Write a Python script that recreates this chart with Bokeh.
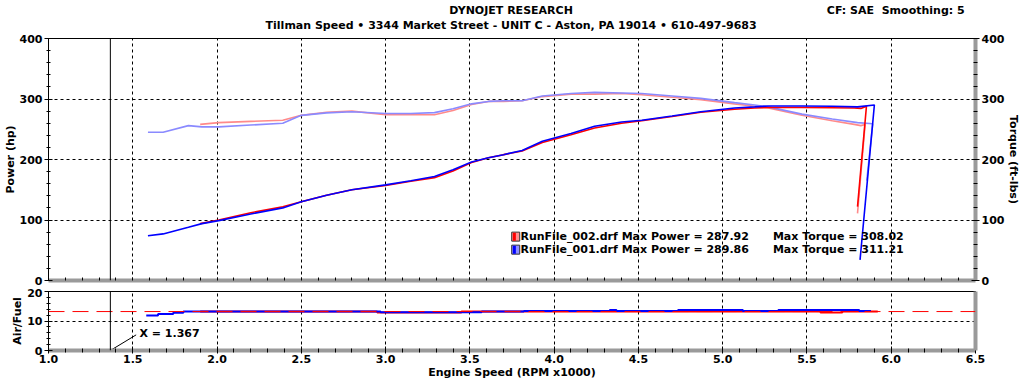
from bokeh.plotting import figure
from bokeh.layouts import column
from bokeh.models import (Range1d, LinearAxis, Span, Label, SingleIntervalTicker,
                          FixedTicker, PrintfTickFormatter)
from bokeh.embed import file_html
from bokeh.resources import INLINE

FONT = "DejaVu Sans"
FS = "11px"

# ---------------- data ----------------
# RunFile_001 (blue)
rpm_001_pw = [1.59, 1.68, 1.83, 1.91, 2.01, 2.2, 2.39, 2.5, 2.65, 2.8, 3.0, 3.15, 3.29, 3.4,
              3.51, 3.61, 3.7, 3.81, 3.93, 4.1, 4.24, 4.4, 4.52, 4.7, 4.87, 5.07, 5.19, 5.27,
              5.47, 5.65, 5.8, 5.9, 5.815]
power_001 = [74, 77, 88, 94, 99, 110, 120, 130, 141, 150, 158, 165, 172, 183,
             196, 203, 208, 215, 230, 243, 255, 262, 265, 272, 279, 285, 287, 288.5,
             288.5, 288, 287, 290, 34]
rpm_001_tq = [1.59, 1.68, 1.83, 1.91, 2.01, 2.2, 2.39, 2.5, 2.65, 2.8, 3.0, 3.15, 3.29, 3.4,
              3.51, 3.61, 3.7, 3.81, 3.93, 4.1, 4.24, 4.4, 4.52, 4.7, 4.87, 5.07, 5.19, 5.27,
              5.47, 5.65, 5.8, 5.89, 5.855]
torque_001 = [245, 245, 256, 254, 254, 257, 260, 273, 277, 279, 276, 276, 277.5, 284,
              292, 296, 297, 297, 305, 309, 311, 310, 309, 305, 301, 294, 290, 287,
              275, 267, 261, 259, 165]

# RunFile_002 (red)
rpm_002_pw = [1.9, 2.01, 2.2, 2.39, 2.5, 2.65, 2.8, 3.0, 3.15, 3.29, 3.4, 3.51, 3.61, 3.7,
              3.81, 3.93, 4.1, 4.24, 4.4, 4.52, 4.7, 4.87, 5.07, 5.19, 5.27, 5.47, 5.65,
              5.78, 5.82, 5.853, 5.80]
power_002 = [94, 100, 112, 122, 130, 141, 150, 157, 164, 170, 181, 195, 203, 208,
             214, 228, 241, 252, 260, 264, 271, 278, 283, 285, 286, 286, 285.5,
             285, 284.5, 288, 122]
rpm_002_tq = [1.9, 2.01, 2.2, 2.39, 2.5, 2.65, 2.8, 3.0, 3.15, 3.29, 3.4, 3.51, 3.61, 3.7,
              3.81, 3.93, 4.1, 4.24, 4.4, 4.52, 4.7, 4.87, 5.07, 5.19, 5.27, 5.47, 5.65,
              5.78, 5.82, 5.845, 5.80]
torque_002 = [258, 261, 263, 265, 273, 278, 280, 274, 274, 274, 281, 291, 296, 296,
              297, 304, 308, 308, 309, 307, 303, 299, 292, 288, 285, 273, 264,
              258, 256, 258, 111]

# Air/Fuel
afr_001_rpm = [1.58, 1.65, 1.74, 1.80, 2.97, 3.57, 3.82, 4.33, 4.37, 4.735, 5.12, 5.33, 5.81, 5.88]
afr_001 = [11.9, 12.4, 12.8, 13.2, 13.0, 13.2, 13.4, 13.7, 13.4, 13.7, 13.4, 13.7, 13.4, 13.4]
afr_002_rpm = [1.9, 2.95, 3.45, 5.58, 5.71, 5.92]
afr_002 = [13.2, 12.85, 13.2, 12.9, 13.2, 13.2]
afr_target = 13.2
cursor_x = 1.367

legend_files = ["RunFile_002.drf", "RunFile_001.drf"]
legend_power = [287.92, 289.86]
legend_torque = [308.02, 311.21]
legend_colors = ["#ff0000", "#0000ff"]
legend_light = ["#ff9090", "#9090ff"]

title_text = "DYNOJET RESEARCH"
subtitle_text = "Tillman Speed \u2022 3344 Market Street - UNIT C - Aston, PA 19014 \u2022 610-497-9683"
corner_text = "CF: SAE\u00a0 Smoothing: 5"

RED, RED_L = "#ff0000", "#ff8a8a"
BLUE, BLUE_L = "#0000ff", "#8a8aff"
SHADOW = "#9a9a9a"
W = 1024
minor_x = [round(1.0 + 0.1 * i, 2) for i in range(56)]


def style_text(ax):
    ax.major_label_text_font = FONT
    ax.major_label_text_font_style = "bold"
    ax.major_label_text_font_size = FS
    ax.axis_label_text_font = FONT
    ax.axis_label_text_font_style = "bold"
    ax.axis_label_text_font_size = FS
    ax.major_label_text_color = "black"
    ax.axis_label_text_color = "black"


def lbl(x, y, text, align="left"):
    return Label(x=x, y=y, text=text, text_font=FONT, text_font_style="bold",
                 text_font_size=FS, text_align=align, text_baseline="middle",
                 text_color="black")


# ---------------- header ----------------
ph = figure(width=W, height=32, x_range=Range1d(0, W), y_range=Range1d(32, 0),
            output_backend="svg", toolbar_location=None,
            x_axis_location=None, y_axis_location=None,
            min_border=0, min_border_left=0, min_border_right=0,
            min_border_top=0, min_border_bottom=0)
ph.outline_line_color = None
ph.xgrid.visible = False
ph.ygrid.visible = False
ph.add_layout(lbl(511, 10, title_text, "center"))
ph.add_layout(lbl(511, 25, subtitle_text, "center"))
ph.add_layout(lbl(1012, 10, corner_text, "right"))

# ---------------- top panel ----------------
p1 = figure(width=W, height=256, x_range=Range1d(1.0, 6.5), y_range=Range1d(0, 400),
            output_backend="svg", toolbar_location=None,
            min_border_left=47, min_border_right=49, min_border_top=6, min_border_bottom=8)
p1.outline_line_color = "black"
p1.background_fill_color = "white"
p1.border_fill_color = "white"

xa = p1.xaxis[0]
xa.ticker = FixedTicker(ticks=[], minor_ticks=minor_x)
xa.axis_line_color = SHADOW
xa.axis_line_width = 4
xa.major_label_standoff = 0
xa.major_tick_out = 0
xa.minor_tick_in = 3
xa.minor_tick_out = 0
xa.minor_tick_line_color = "black"

ya = p1.yaxis[0]
ya.ticker = SingleIntervalTicker(interval=100, num_minor_ticks=5)
ya.axis_label = "Power (hp)"
style_text(ya)
ya.axis_label_standoff = 0
ya.major_label_standoff = 2
ya.major_tick_in = 4
ya.major_tick_out = 4
ya.minor_tick_in = 2
ya.minor_tick_out = 2
ya.axis_line_color = "black"

ra = LinearAxis(ticker=SingleIntervalTicker(interval=100, num_minor_ticks=5),
                axis_label="Torque (ft-lbs)")
style_text(ra)
ra.axis_label_standoff = 0
ra.major_label_standoff = 2
ra.axis_line_color = SHADOW
ra.axis_line_width = 4
ra.major_tick_in = 4
ra.major_tick_out = 4
ra.minor_tick_in = 2
ra.minor_tick_out = 2
p1.add_layout(ra, "right")

p1.xgrid[0].ticker = SingleIntervalTicker(interval=0.5)
for g in (p1.xgrid[0], p1.ygrid[0]):
    g.grid_line_color = "black"
    g.grid_line_dash = "3 3"
    g.grid_line_width = 1

# curves
p1.line(rpm_002_tq, torque_002, line_color=RED_L, line_width=1.6)
p1.line(rpm_001_tq, torque_001, line_color=BLUE_L, line_width=1.6)
p1.line(rpm_002_pw, power_002, line_color=RED, line_width=1.6)
p1.line(rpm_001_pw, power_001, line_color=BLUE, line_width=1.6)

p1.add_layout(Span(location=cursor_x, dimension="height", line_color="black", line_width=1))

# legend
leg_rows = [72.5, 51.0]
for i in range(2):
    y = leg_rows[i]
    p1.rect(x=[3.772], y=[y], width=8, height=9, width_units="screen", height_units="screen",
            fill_color=legend_light[i], line_color="#333333", line_width=1)
    p1.rect(x=[3.764], y=[y], width=3, height=8, width_units="screen", height_units="screen",
            fill_color=legend_colors[i], line_color=None)
    p1.add_layout(lbl(3.80, y, f"{legend_files[i]} Max Power = {legend_power[i]:.2f}"))
    p1.add_layout(lbl(5.298, y, f"Max Torque = {legend_torque[i]:.2f}"))

# ---------------- bottom panel ----------------
p2 = figure(width=W, height=94, x_range=p1.x_range, y_range=Range1d(0, 20),
            output_backend="svg", toolbar_location=None,
            min_border_left=47, min_border_right=49, min_border_top=3, min_border_bottom=32)
p2.outline_line_color = "black"
p2.background_fill_color = "white"
p2.border_fill_color = "white"

bx = p2.xaxis[0]
bx.ticker = SingleIntervalTicker(interval=0.5, num_minor_ticks=5)
bx.formatter = PrintfTickFormatter(format="%.1f")
bx.axis_label = "Engine Speed (RPM x1000)"
style_text(bx)
bx.axis_line_color = SHADOW
bx.axis_line_width = 4
bx.major_tick_in = 4
bx.major_tick_out = 3
bx.minor_tick_in = 2
bx.minor_tick_out = 2
bx.major_label_standoff = 1
bx.axis_label_standoff = 0

by = p2.yaxis[0]
by.ticker = SingleIntervalTicker(interval=10, num_minor_ticks=5)
by.axis_label = "Air/Fuel"
style_text(by)
by.axis_label_standoff = 0
by.major_label_standoff = 2
by.major_tick_in = 4
by.major_tick_out = 4
by.minor_tick_in = 2
by.minor_tick_out = 2
by.axis_line_color = "black"

rb = LinearAxis(ticker=FixedTicker(ticks=[]))
rb.axis_line_color = SHADOW
rb.axis_line_width = 4
rb.major_tick_line_color = None
rb.minor_tick_line_color = None
p2.add_layout(rb, "right")

for g in (p2.xgrid[0], p2.ygrid[0]):
    g.grid_line_color = "black"
    g.grid_line_dash = "3 3"
    g.grid_line_width = 1

p2.add_layout(Span(location=afr_target, dimension="width", line_color=RED,
                   line_width=1, line_dash="16 8"))
p2.step(afr_002_rpm, afr_002, mode="after", line_color=RED, line_width=2)
p2.step(afr_001_rpm, afr_001, mode="after", line_color=BLUE, line_width=2)

p2.add_layout(Span(location=cursor_x, dimension="height", line_color="black", line_width=1))
p2.segment(x0=[cursor_x], y0=[0], x1=[1.52], y1=[5.3], line_color="black", line_width=1)
p2.add_layout(lbl(1.54, 5.6, "X = 1.367"))

layout = column(ph, p1, p2, spacing=0)
open("out.html", "w").write(file_html(layout, INLINE))
